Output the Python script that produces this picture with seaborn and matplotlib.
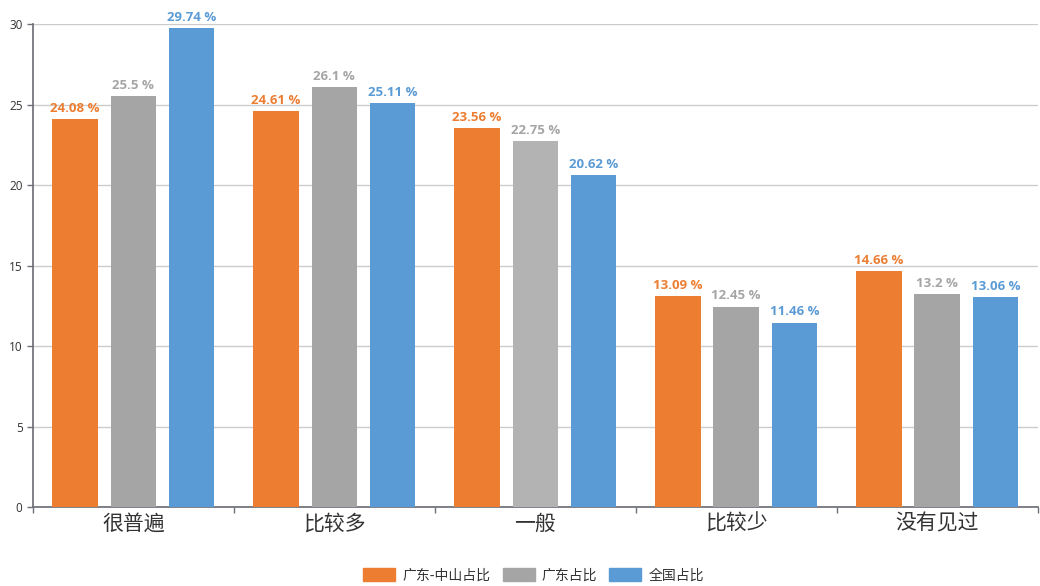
import pandas as pd
import matplotlib.pyplot as plt
import matplotlib.patches as mpatches
import seaborn as sns

categories = ['很普遍', '比较多', '一般', '比较少', '没有见过']
series = ['广东-中山占比', '广东占比', '全国占比']
zhongshan = [24.08, 24.61, 23.56, 13.09, 14.66]
guangdong = [25.5, 26.1, 22.75, 12.45, 13.2]
national = [29.74, 25.11, 20.62, 11.46, 13.06]
colors = ['#ED7D31', '#A5A5A5', '#5B9BD5']


def generate_plot():
    rows = []
    for name, vals in zip(series, [zhongshan, guangdong, national]):
        for cat, v in zip(categories, vals):
            rows.append({'cat': cat, 'series': name, 'value': v})
    df = pd.DataFrame(rows)

    sns.set_theme(style='white')
    plt.rcParams['font.family'] = ['Noto Sans CJK SC', 'DejaVu Sans']
    num_font = ['Open Sans', 'DejaVu Sans']

    fig = plt.figure(figsize=(10.4, 5.86), dpi=100)
    ax = fig.add_axes([0.0317, 0.1348, 0.966, 0.8242])

    sns.barplot(data=df, x='cat', y='value', hue='series', order=categories,
                hue_order=series, palette=colors, width=0.87, gap=0.22,
                saturation=1, legend=False, linewidth=0, ax=ax, zorder=3)

    # value labels above each bar
    for container, col in zip(ax.containers, colors):
        labels = [f'{v:g} %' for v in container.datavalues]
        ax.bar_label(container, labels=labels, padding=3, color=col,
                     fontsize=9.5, fontweight='bold', family=num_font)

    # hovered bar in the reference is slightly lighter
    ax.containers[1][2].set_facecolor('#B3B3B3')

    ax.set_ylim(0, 30)
    ax.set_yticks([0, 5, 10, 15, 20, 25, 30])
    ax.set_xlim(-0.5, len(categories) - 0.5)
    ax.yaxis.grid(True, color='#cccccc', linewidth=1, zorder=0)
    ax.set_xlabel('')
    ax.set_ylabel('')

    for s in ['top', 'right']:
        ax.spines[s].set_visible(False)
    ax.spines['left'].set_color('#6e7079')
    ax.spines['bottom'].set_color('#6e7079')

    ax.tick_params(axis='y', colors='#6e7079', labelcolor='#333333',
                   labelsize=8.5, length=4, width=1, left=True, direction='out')
    for t in ax.get_yticklabels():
        t.set_family(num_font)
    ax.tick_params(axis='x', which='major', length=0, labelsize=15,
                   labelcolor='#333333', pad=4)
    ax.set_xticks([i - 0.5 for i in range(len(categories) + 1)], minor=True)
    ax.tick_params(axis='x', which='minor', length=4, color='#6e7079',
                   bottom=True, direction='out')

    handles = [mpatches.Patch(color=c, label=n) for c, n in zip(colors, series)]
    fig.legend(handles=handles, loc='center', bbox_to_anchor=(0.513, 0.018),
               ncol=3, frameon=False, fontsize=10, handlelength=2.3,
               handleheight=1.0, columnspacing=0.9, handletextpad=0.5,
               labelcolor='#333333')

    fig.savefig('out.png', dpi=100)
    plt.close(fig)


if __name__ == '__main__':
    generate_plot()
